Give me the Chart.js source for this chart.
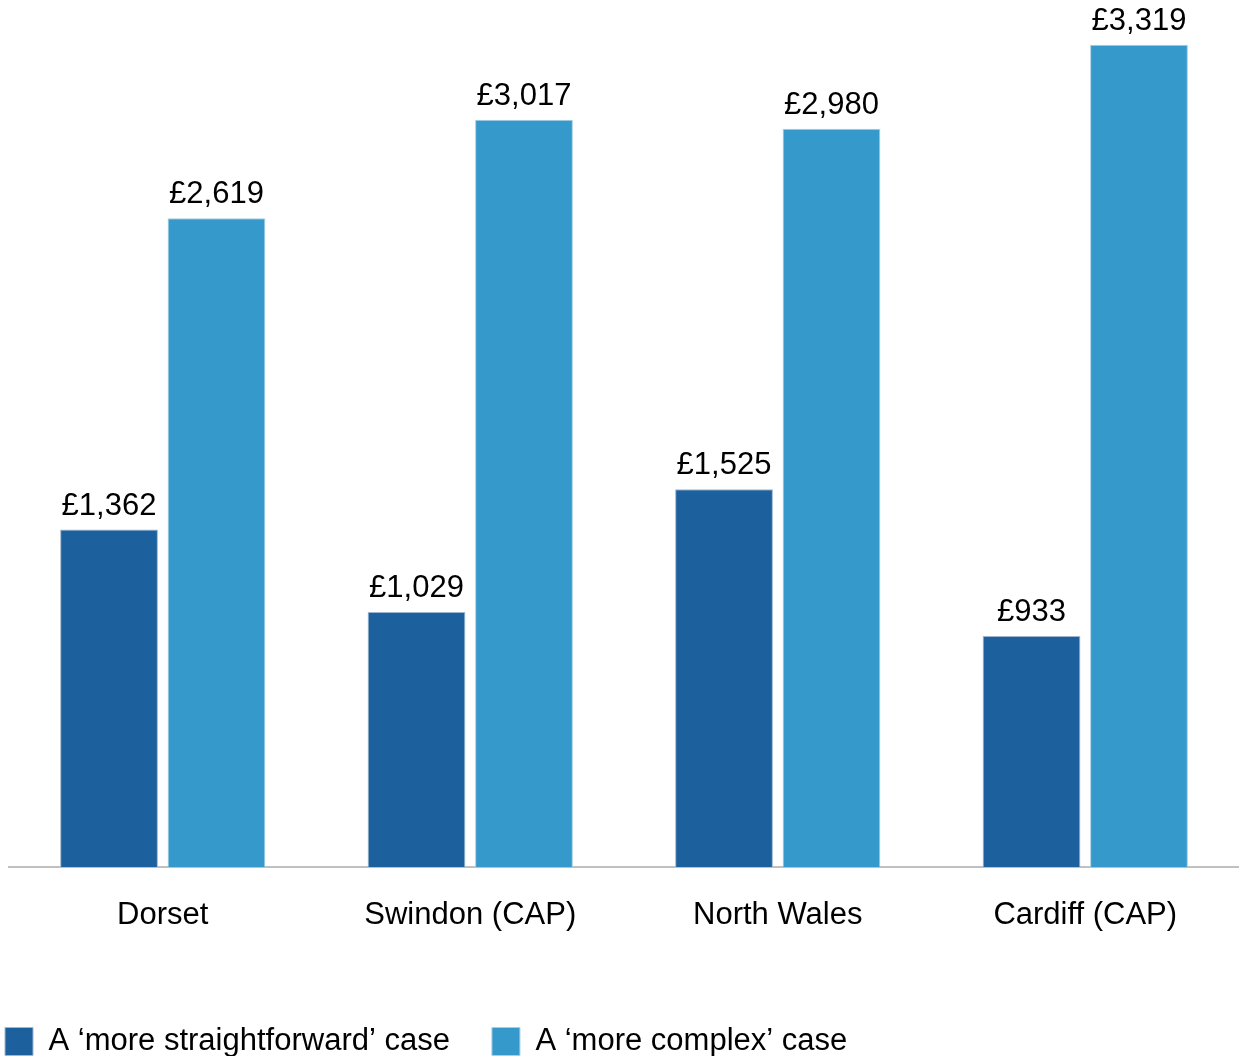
<!DOCTYPE html>
<html lang="en">
<head>
    <meta charset="UTF-8">
    <title>Cost per case</title>
    <style>
        html, body {
            margin: 0;
            padding: 0;
            background: #fff;
            overflow: hidden;
        }
        .wrap {
            width: 1239px;
            height: 1056px;
        }
    </style>
</head>
<body>
    <div class="wrap"><canvas id="chart"></canvas></div>

    <script src="https://cdn.jsdelivr.net/npm/chart.js"></script>
    <script>
        const areas = ['Dorset', 'Swindon (CAP)', 'North Wales', 'Cardiff (CAP)'];
        const straightforward = [1362, 1029, 1525, 933];
        const complex = [2619, 3017, 2980, 3319];
        const seriesNames = ['A \u2018more straightforward\u2019 case', 'A \u2018more complex\u2019 case'];

        const fontFamily = '"Liberation Sans", Arial, sans-serif';

        // labels above each bar
        const valueLabels = {
            id: 'valueLabels',
            afterDatasetsDraw(chart) {
                const ctx = chart.ctx;
                ctx.save();
                ctx.font = '31px ' + fontFamily;
                ctx.fillStyle = '#000';
                ctx.textAlign = 'center';
                ctx.textBaseline = 'alphabetic';
                chart.data.datasets.forEach((ds, i) => {
                    chart.getDatasetMeta(i).data.forEach((bar, j) => {
                        ctx.fillText('\u00a3' + ds.data[j].toLocaleString('en-GB'), bar.x, bar.y - 15);
                    });
                });
                ctx.restore();
            }
        };

        // nudge the legend to the bottom-left corner
        const legendPlace = {
            id: 'legendPlace',
            afterLayout(chart) {
                if (chart.legend) {
                    chart.legend.left = -37;
                    chart.legend.top = 984;
                }
            }
        };

        new Chart(document.getElementById('chart'), {
            type: 'bar',
            data: {
                labels: areas,
                datasets: [
                    {
                        label: seriesNames[0],
                        data: straightforward,
                        backgroundColor: '#1c619e',
                        borderColor: '#9fb6cc',
                        borderWidth: 1
                    },
                    {
                        label: seriesNames[1],
                        data: complex,
                        backgroundColor: '#3599cc',
                        borderColor: '#a9cde2',
                        borderWidth: 1
                    }
                ]
            },
            options: {
                responsive: true,
                maintainAspectRatio: false,
                animation: false,
                layout: { padding: { left: 9, right: 0, top: 0, bottom: 0 } },
                datasets: {
                    bar: { categoryPercentage: 0.699, barPercentage: 0.91 }
                },
                scales: {
                    x: {
                        grid: { display: false, drawTicks: false },
                        border: { display: true, color: '#c0c0c0', width: 2 },
                        ticks: {
                            color: '#000',
                            padding: 30,
                            font: { size: 31, family: fontFamily }
                        },
                        afterFit(scale) { scale.height = 106; }
                    },
                    y: {
                        display: false,
                        min: 0,
                        max: 3500
                    }
                },
                plugins: {
                    tooltip: { enabled: false },
                    legend: {
                        position: 'bottom',
                        align: 'start',
                        labels: {
                            boxWidth: 28,
                            boxHeight: 28,
                            padding: 42,
                            color: '#000',
                            font: { size: 31, family: fontFamily }
                        }
                    }
                }
            },
            plugins: [valueLabels, legendPlace]
        });
    </script>
</body>
</html>
